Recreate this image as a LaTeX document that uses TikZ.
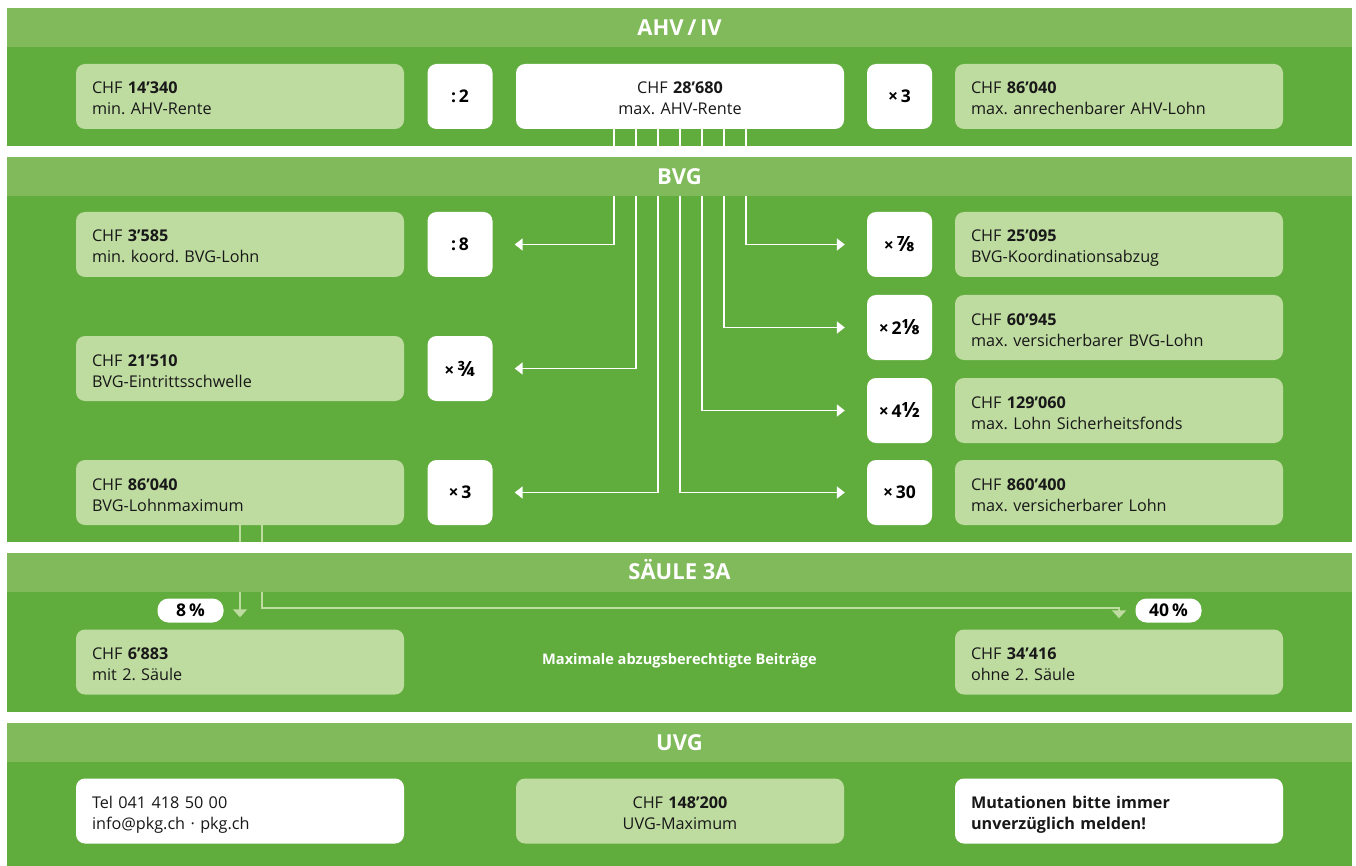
\documentclass[tikz,border=0pt]{standalone}
\usepackage{fontspec}
\setmainfont{Open Sans}
\usetikzlibrary{arrows.meta,positioning}
\frenchspacing

\definecolor{pkgdark}{RGB}{96,173,62}
\definecolor{pkghead}{RGB}{128,186,90}
\definecolor{pkglight}{RGB}{190,219,160}
\definecolor{pkgtext}{RGB}{24,24,24}

\newcommand{\chfline}[2]{CHF \textbf{#1}\\#2}
\newcommand{\opfrac}[1]{{\fontsize{21}{21}\selectfont #1}}

\begin{document}
\begin{tikzpicture}[x=1pt,y=1pt,
  band/.style={rectangle,fill=pkghead,minimum width=1345pt,minimum height=39pt,inner sep=0pt,text=white,text height=15.7pt,text depth=0pt,font=\fontsize{22}{22}\selectfont\bfseries},
  info/.style={rectangle,rounded corners=9pt,fill=pkglight,text=pkgtext,minimum width=328pt,minimum height=65pt,text width=296pt,inner xsep=16pt,inner ysep=0pt,align=left,font=\fontsize{16.2}{21}\selectfont,
    execute at begin node={\rule{0pt}{20pt}},execute at end node={\rule[-4pt]{0pt}{4pt}}},
  infowhite/.style={info,fill=white},
  infomid/.style={info,align=center},
  midwhite/.style={info,fill=white,align=center},
  op/.style={rectangle,rounded corners=9pt,fill=white,text=black,minimum width=65pt,minimum height=65pt,inner sep=0pt,font=\fontsize{17.5}{17.5}\selectfont\bfseries},
  pill/.style={rectangle,rounded corners=11pt,fill=white,text=black,minimum width=66pt,minimum height=24pt,inner sep=0pt,font=\fontsize{17.5}{17.5}\selectfont\bfseries},
  note/.style={text=white,font=\fontsize{14.6}{14.6}\selectfont\bfseries},
  flow/.style={draw=white,line width=1.8pt,-{Triangle[length=8pt,width=12pt]},shorten >=22pt},
  feed/.style={draw=pkglight,line width=1.8pt,-{Triangle[length=8pt,width=14pt]}}
]
\useasboundingbox (0,0) rectangle (1356,-866);

% Flaechen der vier Bereiche
\fill[pkgdark] (7,-47.5) rectangle (1352,-146);
\fill[pkgdark] (7,-196) rectangle (1352,-541.5);
\fill[pkgdark] (7,-591.5) rectangle (1352,-711.5);
\fill[pkgdark] (7,-762) rectangle (1352,-866);

% AHV/IV
\node[info] (ahvmin) at (240,-96.5) {\chfline{14’340}{min. AHV-Rente}};
\node[op] (ahvhalf) at (460,-96.5) {:\,2};
\node[midwhite] (ahvmax) at (680,-96.5) {\chfline{28’680}{max. AHV-Rente}};
\node[op] (ahvtriple) at (899.5,-96.5) {×\,3};
\node[info] (ahvlohn) at (1119,-96.5) {\chfline{86’040}{max. anrechenbarer AHV-Lohn}};

% BVG links
\node[op] (bvgdiv) at (460,-244.5) {:\,8};
\node[info] (bvgmin) at (240,-244.5) {\chfline{3’585}{min. koord. BVG-Lohn}};
\node[op] (bvgthreeq) at (460,-368.5) {×\,\opfrac{¾}};
\node[info] (bvgschwelle) at (240,-368.5) {\chfline{21’510}{BVG-Eintrittsschwelle}};
\node[op] (bvgtriple) at (460,-492.5) {×\,3};
\node[info] (bvglohnmax) at (240,-492.5) {\chfline{86’040}{BVG-Lohnmaximum}};

% BVG rechts
\node[op] (bvgseven) at (899.5,-244.5) {×\,\opfrac{⅞}};
\node[info] (bvgkoord) at (1119,-244.5) {\chfline{25’095}{BVG-Koordinationsabzug}};
\node[op] (bvgtwoe) at (899.5,-327.5) {×\,2\opfrac{⅛}};
\node[info] (bvgversich) at (1119,-327.5) {\chfline{60’945}{max. versicherbarer BVG-Lohn}};
\node[op] (bvgfourh) at (899.5,-410.5) {×\,4\opfrac{½}};
\node[info] (bvgfonds) at (1119,-410.5) {\chfline{129’060}{max. Lohn Sicherheitsfonds}};
\node[op] (bvgthirty) at (899.5,-492.5) {×\,30};
\node[info] (bvgmaxlohn) at (1119,-492.5) {\chfline{860’400}{max. versicherbarer Lohn}};

% Saeule 3a
\node[pill] (pctmit) at (190.5,-610.5) {8\,\%};
\node[pill] (pctohne) at (1168.5,-610.5) {40\,\%};
\node[info] (s3amit) at (240,-662) {\chfline{6’883}{mit 2. Säule}};
\node[note] (s3anote) at (679.5,-661) {Maximale abzugsberechtigte Beiträge};
\node[info] (s3aohne) at (1119,-662) {\chfline{34’416}{ohne 2. Säule}};

% UVG
\node[infowhite] (uvgkontakt) at (240,-811) {Tel 041 418 50 00\\info@pkg.ch · pkg.ch};
\node[infomid] (uvgmax) at (680,-811) {\chfline{148’200}{UVG-Maximum}};
\node[infowhite,font=\fontsize{16.2}{21}\selectfont\bfseries] (uvgmeldung) at (1119,-811) {Mutationen bitte immer\\unverzüglich melden!};

% Ableitungen aus der max. AHV-Rente
\foreach \dx/\target in {-66/bvgdiv,-44/bvgthreeq,-22/bvgtriple,0/bvgthirty,22/bvgfourh,44/bvgtwoe,66/bvgseven}
  \draw[flow] ([xshift=\dx pt]ahvmax.south) |- (\target);

% Beitraege Saeule 3a aus dem BVG-Lohnmaximum
\draw[feed] (bvglohnmax.south) -- ([yshift=12pt]s3amit.north);
\draw[feed] ([xshift=22pt]bvglohnmax.south) -- ++(0,-82.5) -| ([yshift=11pt]s3aohne.north);

% Luecken und Kopfzeilen liegen ueber den Linien
\fill[white] (7,-146) rectangle (1352,-157);
\fill[white] (7,-541.5) rectangle (1352,-552.5);
\fill[white] (7,-711.5) rectangle (1352,-723);
\node[band] (ahvhead) at (679.5,-28) {AHV\,/\,IV};
\node[band] (bvghead) at (679.5,-176.5) {BVG};
\node[band] (s3ahead) at (679.5,-572) {SÄULE 3A};
\node[band] (uvghead) at (679.5,-742.5) {UVG};

\end{tikzpicture}
\end{document}
